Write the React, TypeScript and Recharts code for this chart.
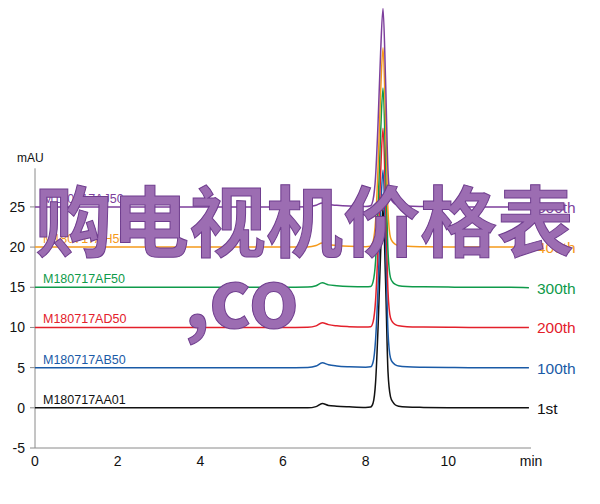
import { LineChart, Line, XAxis, YAxis, ReferenceLine } from 'recharts'

// retention time (min)
const times = [
  0, 0.5, 1, 1.5, 2, 2.5, 3, 3.5, 4, 4.5, 5, 5.5, 6, 6.3, 6.6, 6.8, 6.95, 7.1, 7.3, 7.6, 8.0,
  8.12, 8.18, 8.24, 8.3, 8.36, 8.42, 8.48, 8.54, 8.6, 8.66, 8.72, 8.8, 9.0, 9.4, 10, 10.5, 11, 11.5, 11.95,
]

// absorbance (mAU), traces drawn with their offsets as in the picture
const aa01 = [
  0, 0, 0, 0, 0, 0, 0, 0, 0, 0, 0, 0, 0, 0, 0, 0.15, 0.55, 0.3, 0.2, 0.12, 0.05,
  0.1, 0.6, 3.2, 10, 19, 24.9, 16, 4.5, 1.4, 0.7, 0.35, 0.2, 0.1, 0.05, 0.02, 0, 0, 0, 0,
]
const ab50 = [
  5, 5, 5, 5, 5, 5, 5, 5, 5, 5, 5, 5, 5, 5, 5.02, 5.2, 5.6, 5.35, 5.2, 5.1, 5.05,
  5.1, 5.7, 8.5, 15, 24, 29.6, 21, 9.5, 6.2, 5.6, 5.35, 5.2, 5.1, 5.05, 5.02, 5, 5, 5, 4.98,
]
const ad50 = [
  10, 10, 10, 10, 10, 10, 10, 10, 10, 10, 10, 10, 10, 10, 10.02, 10.2, 10.6, 10.35, 10.2, 10.1, 10.05,
  10.1, 10.7, 13.4, 20, 29, 34.8, 26, 14.5, 11.2, 10.6, 10.35, 10.2, 10.1, 10.05, 10.02, 10, 10, 10, 10,
]
const af50 = [
  15, 15, 15, 15, 15, 15, 15, 15, 15, 15, 15, 15, 15, 15, 15.02, 15.2, 15.55, 15.3, 15.2, 15.1, 15.05,
  15.1, 15.7, 18.3, 25, 34, 39.8, 31, 19.5, 16.2, 15.6, 15.35, 15.2, 15.1, 15.05, 15.02, 15, 15, 15, 14.95,
]
const ah50 = [
  20, 20, 20, 20, 20, 20, 20, 20, 20, 20, 20, 20, 20, 20, 20.02, 20.2, 20.5, 20.3, 20.2, 20.1, 20.05,
  20.1, 20.7, 23.3, 30, 39, 44.8, 36, 24.5, 21.2, 20.6, 20.35, 20.2, 20.1, 20.05, 20.02, 20, 20, 20, 20,
]
const aj50 = [
  25, 25, 25, 25, 25, 25, 25, 25, 25, 25, 25, 25, 25, 25, 25.02, 25.2, 25.5, 25.3, 25.2, 25.1, 25.05,
  25.15, 25.9, 28.8, 35.5, 44, 49.7, 41, 29.5, 26.2, 25.6, 25.35, 25.2, 25.1, 25.05, 25.02, 25, 25, 25, 25,
]

const series = [
  { key: 'aa01', name: 'M180717AA01', run: '1st', color: '#111111', values: aa01 },
  { key: 'ab50', name: 'M180717AB50', run: '100th', color: '#1a5aa6', values: ab50 },
  { key: 'ad50', name: 'M180717AD50', run: '200th', color: '#e3202b', values: ad50 },
  { key: 'af50', name: 'M180717AF50', run: '300th', color: '#0f9a4a', values: af50 },
  { key: 'ah50', name: 'M180717AH50', run: '400th', color: '#f59a1b', values: ah50 },
  { key: 'aj50', name: 'M180717AJ50', run: '500th', color: '#7d3f9c', values: aj50 },
]

const xTicks = [0, 2, 4, 6, 8, 10, 12]
const xMinorTicks = [0, 0.5, 1, 1.5, 2, 2.5, 3, 3.5, 4, 4.5, 5, 5.5, 6, 6.5, 7, 7.5, 8, 8.5, 9, 9.5, 10, 10.5, 11, 11.5, 12]
const yTicks = [-5, 0, 5, 10, 15, 20, 25]
const yMinorTicks = [-5, -4, -3, -2, -1, 0, 1, 2, 3, 4, 5, 6, 7, 8, 9, 10, 11, 12, 13, 14, 15, 16, 17, 18, 19, 20, 21, 22, 23, 24, 25, 26, 27, 28, 29]

const data = times.map((t, i) => {
  const row: Record<string, number> = { t }
  series.forEach((s) => (row[s.key] = s.values[i]))
  return row
})

const FONT = '"Liberation Sans", Arial, Helvetica, sans-serif'
const AXIS = '#8a8a8a'
const last = times.length - 1

const empty = () => <g />

function XTick({ x, y, payload }: any) {
  return (
    <text x={x} y={y + 18} textAnchor="middle" fontSize={14} fontFamily={FONT} fill="#111">
      {payload.value === 12 ? 'min' : payload.value}
    </text>
  )
}

function YTick({ x, y, payload }: any) {
  return (
    <text x={x} y={y + 5} textAnchor="end" fontSize={14} fontFamily={FONT} fill="#111">
      {payload.value}
    </text>
  )
}

function traceLabel(name: string, run: string, color: string) {
  return (p: any) => {
    if (p.index === 0) {
      return (
        <text x={p.x + 8} y={p.y - 4} fontSize={12.5} fontFamily={FONT} fill={color}>
          {name}
        </text>
      )
    }
    if (p.index === last) {
      return (
        <text x={p.x + 8} y={p.y + 6} fontSize={15.5} fontFamily={FONT} fill={color}>
          {run}
        </text>
      )
    }
    return <g />
  }
}

export default function App() {
  return (
    <div style={{ position: 'absolute', left: 0, top: 0, width: 600, height: 504, background: '#fff' }}>
      <LineChart width={600} height={504} data={data} margin={{ top: 6, right: 69, bottom: 26, left: 0 }}>
        <XAxis
          xAxisId="minor"
          dataKey="t"
          type="number"
          domain={[0, 12]}
          ticks={xMinorTicks}
          height={0}
          mirror
          axisLine={false}
          tickSize={3}
          tickLine={{ stroke: AXIS }}
          tick={empty}
        />
        <XAxis
          dataKey="t"
          type="number"
          domain={[0, 12]}
          ticks={xTicks}
          height={30}
          axisLine={{ stroke: AXIS }}
          tickLine={false}
          tickSize={0}
          tickMargin={0}
          tick={<XTick />}
        />
        <YAxis
          yAxisId="minor"
          type="number"
          domain={[-5, 50]}
          ticks={yMinorTicks}
          width={0}
          axisLine={false}
          tickSize={3}
          tickLine={{ stroke: AXIS }}
          tick={empty}
        />
        <YAxis
          type="number"
          domain={[-5, 50]}
          ticks={yTicks}
          width={35}
          axisLine={false}
          tickSize={5}
          tickMargin={5}
          tickLine={{ stroke: AXIS }}
          tick={<YTick />}
        />
        <ReferenceLine
          segment={[{ x: 0, y: -5 }, { x: 0, y: 29.8 }]}
          stroke={AXIS}
          ifOverflow="visible"
        />
        {series.map((s) => (
          <Line
            key={s.key}
            dataKey={s.key}
            type="monotone"
            stroke={s.color}
            strokeWidth={1.5}
            dot={false}
            isAnimationActive={false}
            label={traceLabel(s.name, s.run, s.color)}
          />
        ))}
      </LineChart>
      <svg
        width={600}
        height={504}
        style={{ position: 'absolute', left: 0, top: 0, pointerEvents: 'none' }}
      >
        <text x={17} y={162} fontSize={12} fontFamily={FONT} fill="#111">
          mAU
        </text>
        <text
          x={35}
          y={251}
          fontSize={77}
          fontWeight={700}
          fontFamily='"Noto Sans CJK SC", sans-serif'
          fill="#9c6db2"
          stroke="#6f3d8e"
          strokeWidth={1}
        >
          购电视机价格表
        </text>
        <text
          x={184}
          y={328}
          fontSize={80}
          fontWeight={700}
          fontFamily='"Noto Sans CJK SC", sans-serif'
          fill="#9c6db2"
          stroke="#6f3d8e"
          strokeWidth={1}
        >
          ,co
        </text>
      </svg>
    </div>
  )
}
